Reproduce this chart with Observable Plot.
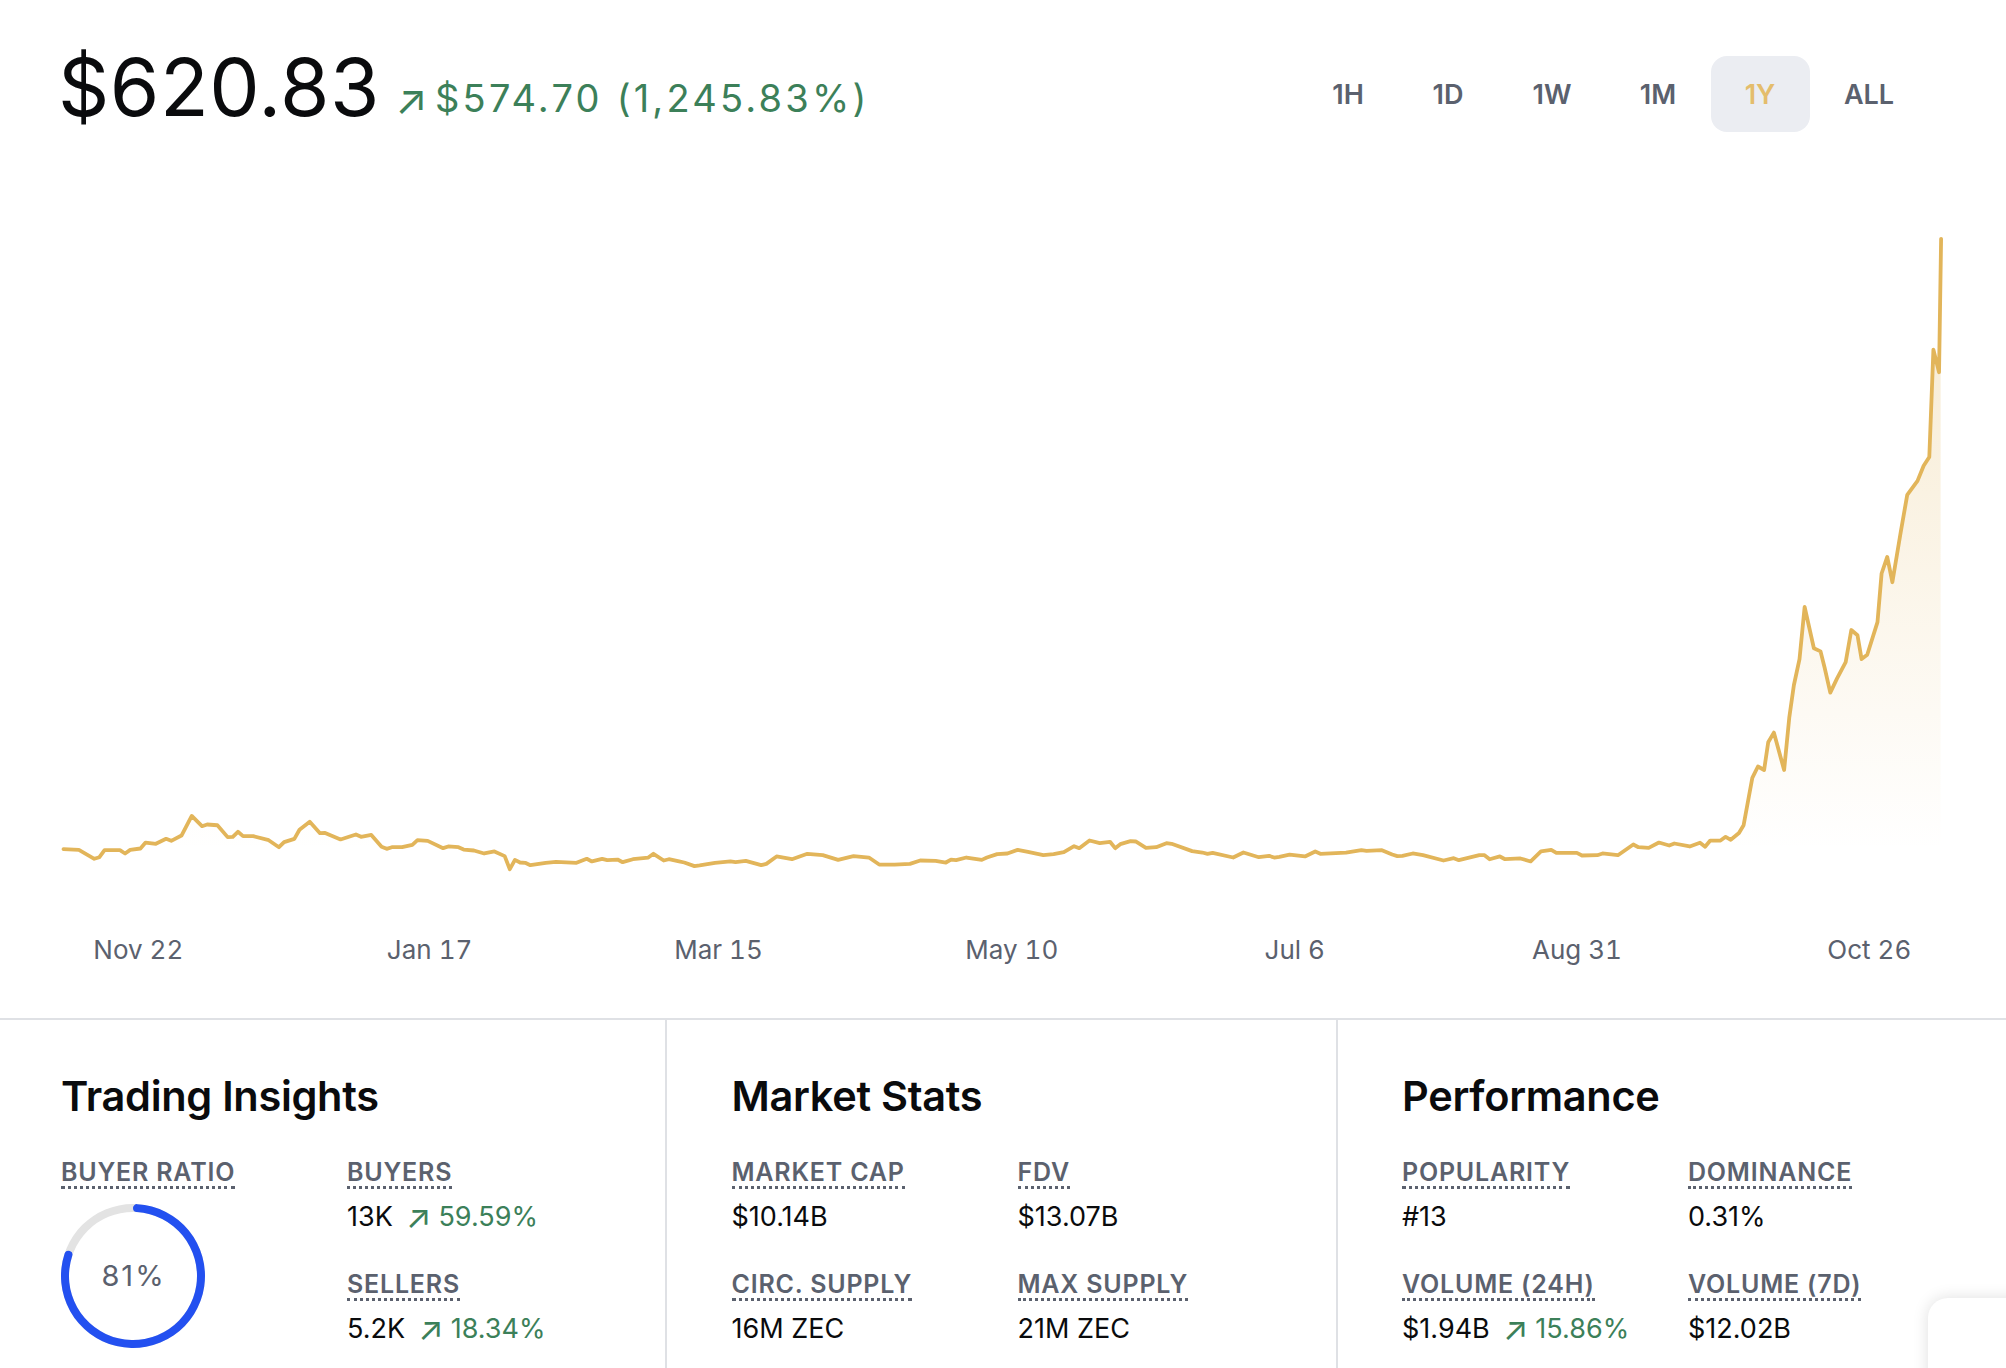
<!DOCTYPE html>
<html>
<head>
<meta charset="utf-8">
<script src="https://cdn.jsdelivr.net/npm/d3@7"></script>
<script src="https://cdn.jsdelivr.net/npm/@observablehq/plot@0.6"></script>
<style>
  html, body { margin: 0; padding: 0; background: #fff; overflow: hidden; }
  body { width: 2006px; height: 1368px; position: relative; font-family: Inter, "Noto Sans", sans-serif; color: #0a0b0d; }
  .abs { position: absolute; white-space: nowrap; line-height: 1; }
  #chart { position: absolute; left: 0; top: 150px; }
  #chart svg { display: block; max-width: none; }
  #ring { position: absolute; left: 53px; top: 1196px; }
  .price { left: 58px; top: 47px; font-size: 80px; font-weight: 400; letter-spacing: 0.5px; }
  .delta { color: #3c8059; font-size: 38px; }
  .btn { top: 81px; font-size: 27px; font-weight: 600; color: #5b616e; transform: translateX(-50%); }
  .chip { position: absolute; left: 1711px; top: 56px; width: 99px; height: 76px; border-radius: 16px; background: #ebedf2; }
  .rule { position: absolute; background: #dfe1e5; }
  .title { font-size: 41.5px; font-weight: 600; letter-spacing: -0.3px; top: 1076px; }
  .label { font-size: 25px; font-weight: 600; color: #5b616e; letter-spacing: 0.8px; border-bottom: 3px dotted #5b616e; padding-bottom: 1px; }
  .value { font-size: 27px; font-weight: 400; }
  .change { color: #3c8059; font-size: 27px; }
  .arrow { color: #3c8059; font-size: 33px; line-height: 0; vertical-align: -2px; margin: 0 7px 0 13px; }
  .card { position: absolute; left: 1928px; top: 1298px; width: 120px; height: 120px; border-radius: 20px; background: #fff; box-shadow: 0 0 16px rgba(0,0,0,.13); }
</style>
</head>
<body>
<div id="root"></div>
<div id="chart"></div>
<div id="ring"></div>
<script>
// Chart values
const startDay = Date.UTC(2024, 10, 8);
const days = [0,3,6,7,8,11,12,13,15,16,18,20,21,23,25,27,28,30,32,33,34,35,37,40,42,43,45,46,48,50,51,54,57,58,60,62,63,64,66,68,69,71,74,75,77,78,80,82,84,86,87,88,89,90,91,94,96,100,102,103,105,106,108,109,111,114,115,117,118,120,121,123,
  124,127,130,131,133,136,137,139,142,145,148,151,154,157,159,162,165,167,170,172,173,174,176,179,180,182,184,186,188,191,193,195,197,198,200,202,204,205,206,208,209,211,213,215,216,220,222,223,224,228,230,233,235,236,237,239,242,244,245,250,253,254,257,259,260,
  261,263,265,269,271,272,276,277,278,280,281,284,286,288,290,291,295,296,299,300,303,306,307,309,311,313,314,317,319,320,321,323,324,325,
  326.6,327.5,329.2,330.3,331.5,332.3,333.4,335.4,336.4,337.3,338.4,339.4,341.2,342.5,343.3,344.4,345.7,347.4,348.5,349.7,350.5,351.6,353.6,354.4,355.5,356.5,358.1,359.4,361.4,362.6,363.7,364.5,365.6,366];
const prices = [46.13,45.5,37.1,38.6,45.2,45.2,42.1,45.5,46.8,52.4,51.2,55.9,54.0,59.0,77.5,67.8,69.4,68.7,57.5,57.8,62.5,58.4,58.4,54.6,48.0,52.8,55.9,64.4,71.9,61.2,61.5,55.3,60.0,57.8,59.6,48.4,46.5,48.0,48.0,50.2,54.6,54.0,47.1,48.7,48.0,45.8,44.9,42.1,44.0,39.6,27.3,36.1,33.6,33.3,31.1,33.3,34.2,33.3,37.1,34.6,37.1,35.8,36.4,33.9,36.7,38.3,41.8,35.5,36.7,34.6,33.6,30.2,
  30.8,33.3,34.6,33.9,35.2,31.1,32.3,39.3,36.7,41.8,40.5,36.1,39.6,38.3,31.7,31.7,32.3,35.5,35.2,33.6,36.4,35.8,38.3,36.1,38.3,41.5,42.1,45.5,43.7,40.5,41.5,43.3,49.0,47.1,54.3,51.8,53.1,47.1,50.9,53.7,53.4,47.4,48.0,51.8,51.2,44.3,43.0,41.8,42.7,38.3,43.0,38.6,39.9,38.3,39.0,41.1,39.3,44.0,41.8,43.0,45.2,44.6,45.2,41.1,39.6,
  39.9,42.1,40.5,35.5,37.7,35.8,40.5,40.5,36.7,39.3,36.7,37.4,34.6,44.0,45.5,42.7,42.7,40.2,40.5,42.1,40.5,50.6,48.0,47.4,52.4,49.6,51.5,48.7,52.2,48.4,54.3,54.3,57.8,55.0,
  61.4,68.7,113.3,124.0,120.7,146.9,155.9,120.7,169.8,200.5,225.1,274.2,235.3,232.4,216.9,193.6,206.7,222.2,252.5,247.6,225.1,229.2,259.9,305.7,321.3,297.5,343.8,379.8,392.9,407.2,415.4,516.5,495.2,620.83];
const tickDates = ["2024-11-22","2025-01-17","2025-03-15","2025-05-10","2025-07-06","2025-08-31","2025-10-26"];
const ranges = ["1H","1D","1W","1M","1Y","ALL"];
const priceNow = "$620.83";
const priceChange = "$574.70 (1,245.83%)";
const panelTitles = ["Trading Insights","Market Stats","Performance"];
const statLabels = ["BUYER RATIO","BUYERS","SELLERS","MARKET CAP","FDV","CIRC. SUPPLY","MAX SUPPLY","POPULARITY","DOMINANCE","VOLUME (24H)","VOLUME (7D)"];
const statValues = ["","13K","5.2K","$10.14B","$13.07B","16M ZEC","21M ZEC","#13","0.31%","$1.94B","$12.02B"];
const statChanges = ["","59.59%","18.34%","","","","","","","15.86%",""];
const buyerRatio = 81;

const gold = "#e2b55a";
const grey = "#5b616e";
const data = days.map((d, i) => ({date: new Date(startDay + d * 864e5), price: prices[i]}));

// layout constants
const rangeX = [1348, 1448, 1552, 1658, 1760, 1869];
const panelX = [61, 731.5, 1402];
const statSlots = [[0,0],[1,0],[1,1],[0,0],[1,0],[0,1],[1,1],[0,0],[1,0],[0,1],[1,1]];
const statPanel = [0,0,0,1,1,1,1,2,2,2,2];
const colGap = 286;
const rowLabelTop = [1160, 1272];
const rowValueTop = [1203, 1315];
const tickNudge = [3, 7, 3.5, 9.5, 0, -5, 0];

const root = document.getElementById("root");
function put(cls, text, css) {
  const el = document.createElement("div");
  el.className = cls;
  el.textContent = text;
  Object.assign(el.style, css || {});
  root.appendChild(el);
  return el;
}
put("abs price", priceNow);
put("abs delta", "↗", {left: "395px", top: "78px", fontSize: "42px"});
put("abs delta", priceChange, {left: "435px", top: "79px", letterSpacing: "3.2px"});
put("chip", "");
ranges.forEach((r, i) => put("abs btn", r, {left: rangeX[i] + "px", color: r === "1Y" ? "#e4bd6c" : grey}));
put("rule", "", {left: 0, top: "1018px", width: "2006px", height: "2px"});
put("rule", "", {left: "665px", top: "1018px", width: "2px", height: "350px"});
put("rule", "", {left: "1336px", top: "1018px", width: "2px", height: "350px"});
panelTitles.forEach((t, i) => put("abs title", t, {left: panelX[i] + "px"}));
statLabels.forEach((t, i) => {
  const [c, r] = statSlots[i];
  const x = panelX[statPanel[i]] + c * colGap;
  put("abs label", t, {left: x + "px", top: rowLabelTop[r] + "px"});
  if (!statValues[i]) return;
  const v = put("abs value", statValues[i], {left: x + "px", top: rowValueTop[r] + "px"});
  if (statChanges[i]) {
    const a = document.createElement("span");
    a.className = "arrow";
    a.textContent = "↗";
    v.appendChild(a);
    const s = document.createElement("span");
    s.className = "change";
    s.textContent = statChanges[i];
    v.appendChild(s);
  }
});
put("card", "");

const chart = Plot.plot({
  width: 2006,
  height: 868,
  marginLeft: 63,
  marginRight: 65.4,
  marginTop: 88.3,
  marginBottom: 120.3,
  style: {background: "transparent"},
  x: {type: "utc", domain: [new Date(startDay), new Date(startDay + 366 * 864e5)]},
  y: {domain: [0, 620.83], axis: null},
  marks: [
    () => {
      const defs = d3.create("svg:defs");
      const g = defs.append("linearGradient").attr("id", "goldFade")
        .attr("gradientUnits", "userSpaceOnUse")
        .attr("x1", 0).attr("x2", 0).attr("y1", 88).attr("y2", 700);
      g.append("stop").attr("offset", 0).attr("stop-color", gold).attr("stop-opacity", 0.3);
      g.append("stop").attr("offset", 1).attr("stop-color", gold).attr("stop-opacity", 0);
      return defs.node();
    },
    Plot.areaY(data, {x: "date", y: "price", fill: "url(#goldFade)"}),
    Plot.lineY(data, {x: "date", y: "price", stroke: gold, strokeWidth: 3.8, strokeLinejoin: "round", strokeLinecap: "round"}),
    ...tickDates.map((d, i) => Plot.axisX({
      ticks: [new Date(d)],
      tickFormat: d3.utcFormat("%b %-d"),
      tickSize: 0,
      tickPadding: 42,
      dx: tickNudge[i],
      label: null,
      fontSize: 26,
      fontFamily: "Inter",
      fill: grey
    }))
  ]
});
document.getElementById("chart").appendChild(chart);

const ring = Plot.plot({
  width: 160,
  height: 160,
  margin: 0,
  style: {background: "transparent", letterSpacing: "2px"},
  marks: [
    (index, scales, values, dims) => {
      const arc = d3.arc().innerRadius(64).outerRadius(72);
      const g = d3.create("svg:g").attr("transform", `translate(${dims.width / 2},${dims.height / 2})`);
      g.append("path").attr("fill", "#e3e3e3").attr("d", arc({startAngle: 0, endAngle: 2 * Math.PI}));
      g.append("path").attr("fill", "#2350f0").attr("d", arc.cornerRadius(4)({startAngle: 0, endAngle: 2 * Math.PI * buyerRatio / 100}));
      return g.node();
    },
    Plot.text([buyerRatio + "%"], {text: d => d, frameAnchor: "middle", fontSize: 29, fontFamily: "Inter", fill: grey})
  ]
});
document.getElementById("ring").appendChild(ring);
</script>
</body>
</html>
